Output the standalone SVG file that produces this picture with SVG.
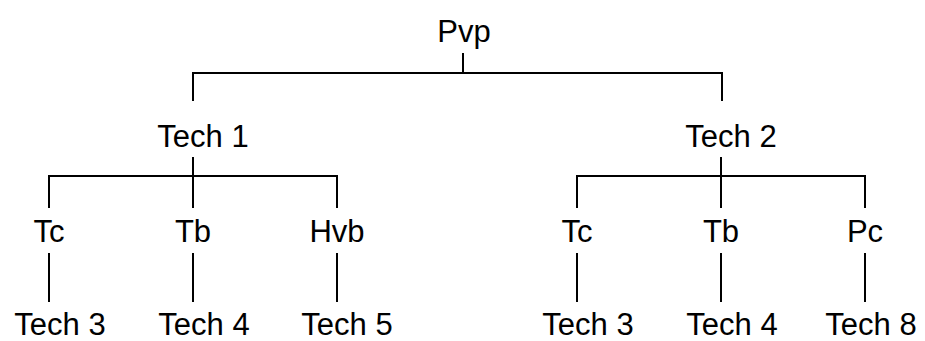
<svg xmlns="http://www.w3.org/2000/svg" width="925" height="341" viewBox="0 0 925 341">
<style>
text{font-family:"Liberation Sans",Arial,sans-serif;font-size:31px;fill:#000;text-anchor:middle}
.c line{stroke:#000;stroke-width:2;fill:none}
</style>
<rect width="925" height="341" fill="#fff"/>
<g class="c" id="connectors">
<line x1="463" y1="53" x2="463" y2="73"/>
<line x1="192" y1="73" x2="723" y2="73"/>
<line x1="193" y1="73" x2="193" y2="101"/>
<line x1="722" y1="73" x2="722" y2="101"/>
<line x1="193" y1="157" x2="193" y2="208"/>
<line x1="48" y1="176" x2="338" y2="176"/>
<line x1="49" y1="176" x2="49" y2="208"/>
<line x1="337" y1="176" x2="337" y2="208"/>
<line x1="721" y1="157" x2="721" y2="208"/>
<line x1="576" y1="176" x2="866" y2="176"/>
<line x1="577" y1="176" x2="577" y2="208"/>
<line x1="865" y1="176" x2="865" y2="208"/>
<line x1="49" y1="253" x2="49" y2="302"/>
<line x1="193" y1="253" x2="193" y2="302"/>
<line x1="337" y1="253" x2="337" y2="302"/>
<line x1="577" y1="253" x2="577" y2="302"/>
<line x1="721" y1="253" x2="721" y2="302"/>
<line x1="865" y1="253" x2="865" y2="302"/>
</g>
<g id="pvp"><text x="464" y="42">Pvp</text></g>
<g id="tech1"><text x="203" y="147">Tech 1</text></g>
<g id="tech2"><text x="731" y="147">Tech 2</text></g>
<g id="tc1"><text x="49" y="242">Tc</text></g>
<g id="tb1"><text x="193" y="242">Tb</text></g>
<g id="hvb"><text x="337" y="242">Hvb</text></g>
<g id="tc2"><text x="577" y="242">Tc</text></g>
<g id="tb2"><text x="721" y="242">Tb</text></g>
<g id="pc"><text x="865" y="242">Pc</text></g>
<g id="tech3a"><text x="60" y="335">Tech 3</text></g>
<g id="tech4a"><text x="204" y="335">Tech 4</text></g>
<g id="tech5"><text x="347" y="335">Tech 5</text></g>
<g id="tech3b"><text x="588" y="335">Tech 3</text></g>
<g id="tech4b"><text x="732" y="335">Tech 4</text></g>
<g id="tech8"><text x="871" y="335">Tech 8</text></g>
</svg>
